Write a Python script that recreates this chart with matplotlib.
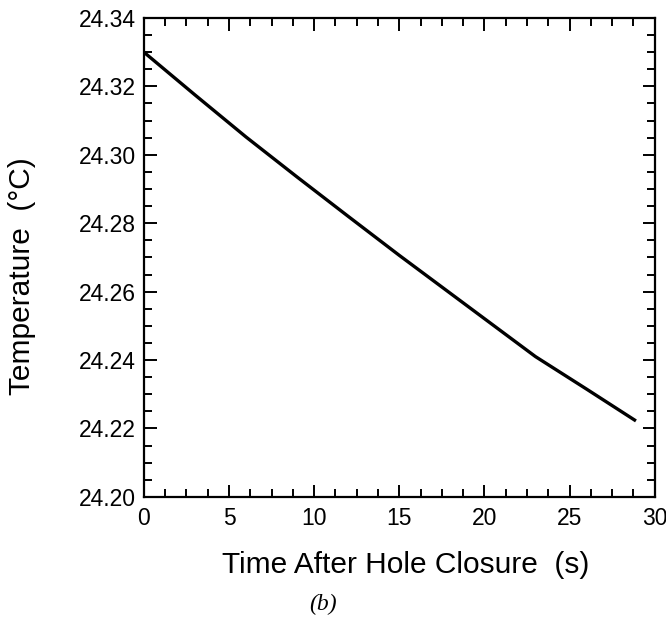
import matplotlib
matplotlib.use("Agg")
import matplotlib.pyplot as plt
from matplotlib.ticker import MultipleLocator, FormatStrFormatter

# Temperature trace after the hole closes
time_s = [0, 3, 6, 9, 12, 15, 18, 21, 23, 26, 28.9]
temp_c = [24.3300, 24.3175, 24.3052, 24.2935, 24.2820, 24.2706, 24.2595, 24.2484,
          24.2410, 24.2315, 24.2222]

plt.rcParams["font.family"] = ["Liberation Sans", "DejaVu Sans"]

fig = plt.figure(figsize=(6.66, 6.18), dpi=100)
ax = fig.add_axes([0.216, 0.196, 0.767, 0.775])

ax.plot(time_s, temp_c, color="black", linewidth=2.4, solid_capstyle="butt",
        solid_joinstyle="round")

ax.set_xlim(0, 30)
ax.set_ylim(24.20, 24.34)
ax.xaxis.set_major_locator(MultipleLocator(5))
ax.xaxis.set_minor_locator(MultipleLocator(1.25))
ax.yaxis.set_major_locator(MultipleLocator(0.02))
ax.yaxis.set_minor_locator(MultipleLocator(0.005))
ax.yaxis.set_major_formatter(FormatStrFormatter("%.2f"))

ax.tick_params(which="both", direction="in", top=True, right=True, width=1.4,
               labelsize=16.5)
ax.tick_params(which="major", length=9)
ax.tick_params(which="minor", length=6)
ax.tick_params(axis="x", pad=7)
ax.tick_params(axis="y", pad=6)
for sp in ax.spines.values():
    sp.set_linewidth(1.6)

ax.set_xlabel("Time After Hole Closure  (s)", fontsize=21.5)
ax.set_ylabel("Temperature  (\u00b0C)", fontsize=21.5)
ax.xaxis.set_label_coords(0.513, -0.114)
ax.yaxis.set_label_coords(-0.211, 0.46)

fig.text(0.485, 0.0055, "(b)", fontsize=17, family="Liberation Serif",
         style="italic", ha="center", va="bottom")

fig.savefig("out.png", dpi=100)
